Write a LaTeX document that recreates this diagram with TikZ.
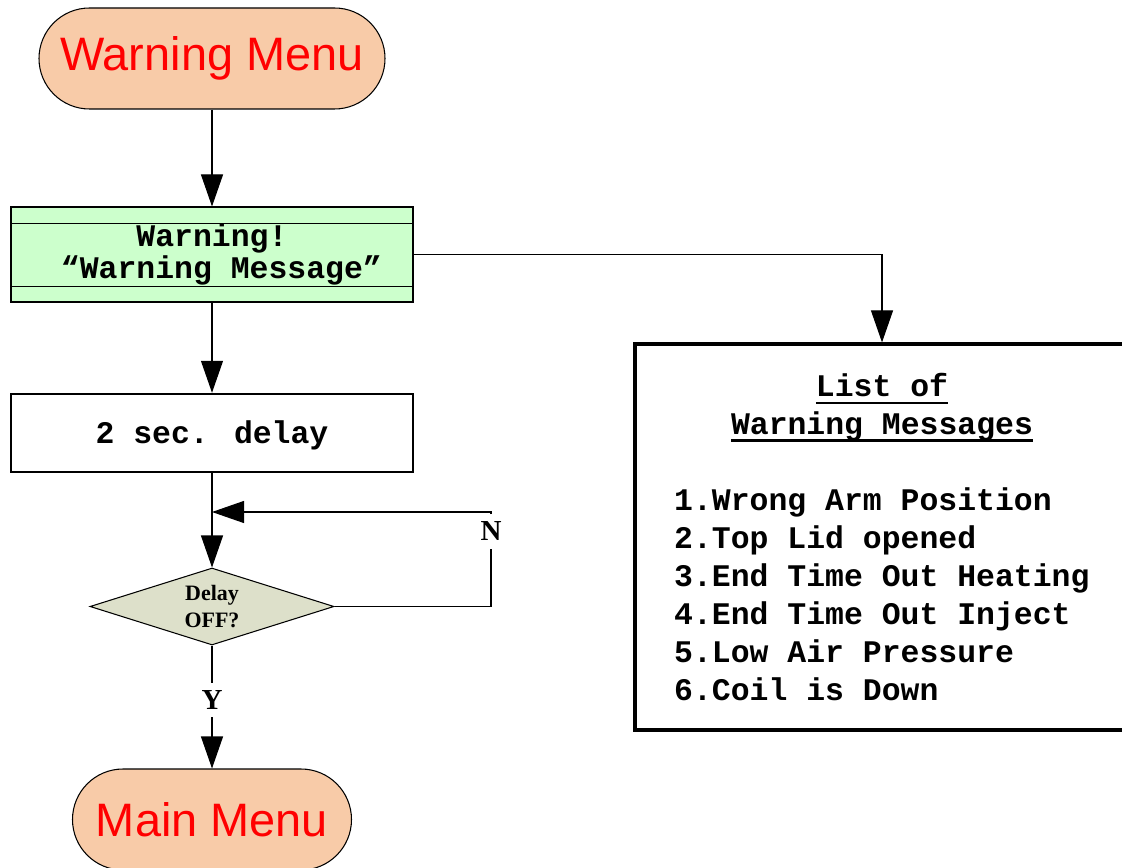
\documentclass[tikz,border=0pt]{standalone}
\usepackage{fontspec}
\setmainfont{Liberation Serif}
\newfontfamily\arialfont{Liberation Sans}
\newfontfamily\courfont{Liberation Mono}
\usetikzlibrary{shapes.geometric,arrows.meta,calc}
\newcommand{\thickul}[1]{\leavevmode\setbox0=\hbox{#1}\rlap{\vrule height -2.6pt depth 4.2pt width \wd0}\box0}
\definecolor{peach}{HTML}{F8CBA8}
\definecolor{lightgreen}{HTML}{CCFFCC}
\definecolor{khaki}{HTML}{DDE0CA}
\tikzset{
	term/.style={draw, fill=peach, line width=0.6pt, rounded corners=1.01cm, minimum height=2.02cm, text=red, font=\arialfont\fontsize{26.7}{30}\selectfont},
	msgbox/.style={draw, fill=lightgreen, line width=0.6pt, minimum width=8.04cm, minimum height=1.9cm, align=center, font=\courfont\bfseries\fontsize{17.9}{18}\selectfont},
	procbox/.style={draw, line width=1.4pt, minimum width=8.04cm, minimum height=1.56cm, text height=16pt, text depth=3.6pt, font=\courfont\bfseries\fontsize{17.9}{20}\selectfont},
	decbox/.style={diamond, draw, fill=khaki, line width=0.6pt, aspect=3.17, inner sep=0pt, minimum width=4.88cm, minimum height=1.54cm, align=center, font=\bfseries\fontsize{12.5}{15.4}\selectfont},
	yn/.style={inner sep=0pt, minimum height=0.68cm, font=\bfseries\fontsize{16.5}{18}\selectfont},
	listbox/.style={draw, line width=1.8pt, minimum width=9.88cm, minimum height=7.72cm},
	listtext/.style={font=\courfont\bfseries\fontsize{17.9}{21.6}\selectfont},
	arr/.style={-{Triangle[length=6.4mm,width=4.4mm]}, line width=0.6pt}
}

\begin{document}
\begin{tikzpicture}
	\useasboundingbox (0,0) rectangle (22.44,-17.36);
	\clip (0,0) rectangle (22.44,-17.36);
	
	\node(start) [term, minimum width=6.92cm] at (4.24,-1.17) {Warning Menu};
	\node(msg) [msgbox, below of=start, node distance=3.92cm] {Warning!\\\hphantom{x}“Warning Message”};
	\node(delay) [procbox, below of=msg, node distance=3.57cm] {2 sec. delay};
	\node(dec) [decbox, below of=delay, node distance=3.47cm] {Delay\\OFF?};
	\node(ylab) [yn, below of=dec, node distance=1.87cm] {Y};
	\node(mainm) [term, minimum width=5.58cm, below of=dec, node distance=4.26cm] {Main Menu};
	\node(nlab) [yn] at (9.82,-10.63) {N};
	\coordinate(join) at (4.24,-10.24);
	
	\node(list) [listbox] at (17.64,-10.74) {};
	\node(listhead) [listtext, align=center] at (17.64,-8.16) {\thickul{List of}\\\thickul{Warning Messages}};
	\node(listitems) [listtext, align=left, anchor=west] at (13.36,-11.88) {1.Wrong Arm Position\\2.Top Lid opened\\3.End Time Out Heating\\4.End Time Out Inject\\5.Low Air Pressure\\6.Coil is Down};
	
	\draw ($(msg.north west)+(0,-0.34)$) -- ($(msg.north east)+(0,-0.34)$);
	\draw ($(msg.south west)+(0,0.32)$) -- ($(msg.south east)+(0,0.32)$);
	
	\draw[arr] (start) -- (msg);
	\draw[arr] (msg) -- (delay);
	\draw[arr] (delay) -- (dec);
	\draw[arr] (msg.east) -| (list.north);
	\draw[line width=0.6pt] (dec.east) -| (nlab.south);
	\draw[arr] (nlab.north) |- (join);
	\draw[line width=0.6pt] (dec.south) -- (ylab.north);
	\draw[arr] (ylab.south) -- (mainm.north);
\end{tikzpicture}
\end{document}
